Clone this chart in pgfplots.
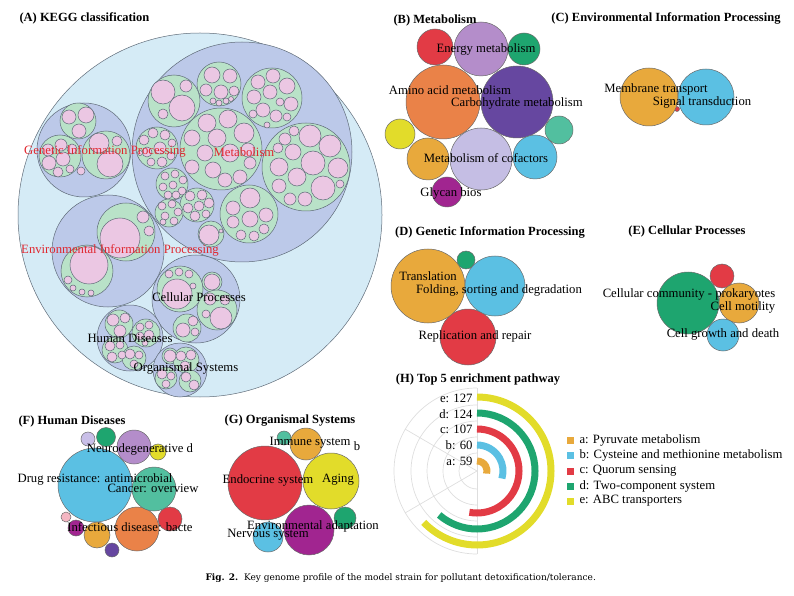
\documentclass[border=0pt]{standalone}
\usepackage{pgfplots}
\pgfplotsset{compat=1.18}
\usepackage{pgfplotstable}
\usepackage{fontspec}
\setmainfont{Liberation Serif}
\newfontfamily\capfont{DejaVu Serif}

\definecolor{cSky}{HTML}{D5EBF6}
\definecolor{cLav}{HTML}{BCC9E9}
\definecolor{cMint}{HTML}{B9E2C8}
\definecolor{cPink}{HTML}{EBC7E3}
\definecolor{edgeA}{HTML}{5F6B78}
\definecolor{edgeB}{HTML}{6A6A6A}
\definecolor{labred}{HTML}{E0262E}
% palette, indexed by the c column
\definecolor{pal0}{HTML}{E23B45}  % red
\definecolor{pal1}{HTML}{B48DCA}  % orchid
\definecolor{pal2}{HTML}{1EA56F}  % green
\definecolor{pal3}{HTML}{EA8248}  % orange
\definecolor{pal4}{HTML}{6647A0}  % indigo
\definecolor{pal5}{HTML}{E2DC2A}  % yellow
\definecolor{pal6}{HTML}{52BF9F}  % teal
\definecolor{pal7}{HTML}{E8A93C}  % gold
\definecolor{pal8}{HTML}{C5BEE4}  % lilac
\definecolor{pal9}{HTML}{5BC0E3}  % cyan
\definecolor{pal10}{HTML}{A12590} % magenta
\definecolor{pal11}{HTML}{F4B6C2} % light pink
\definecolor{pal12}{HTML}{C9BFE8} % light lavender

\newcommand\lbl{\fontsize{12.7}{14}\selectfont}
\newcommand\ttl{\fontsize{12.5}{14}\selectfont\bfseries}

% ring bar of panel H: radius \ringr, clockwise from the top to \ringend
\pgfdeclareplotmark{ringbar}{%
  \pgfpathmoveto{\pgfpoint{0pt}{\ringr pt}}%
  \pgfpatharc{90}{\ringend}{\ringr pt}%
  \pgfusepathqstroke}
\pgfdeclareplotmark{gridarc}{%
  \pgfpathmoveto{\pgfpoint{0pt}{\ringr pt}}%
  \pgfpatharc{90}{270}{\ringr pt}%
  \pgfusepathqstroke}

\pgfplotsset{
  bub/.style 2 args={scatter, only marks, mark=*, point meta=\thisrow{r},
    visualization depends on={\thisrow{r}\as\bubr},
    scatter/use mapped color={draw=#1, fill=#2, line width=0.5pt},
    scatter/@pre marker code/.append style={/tikz/mark size=\bubr}},
}

% ---------- panel A: KEGG classification ----------
\pgfplotstableread{
x y r
200 215 182
}\tabAouter
\pgfplotstableread{
x y r
242 152 110
84 150 47
108 251 56
196 299 44
130 338 33
180 370 27
}\tabAcat
\pgfplotstableread{
x y r
174 101 26
219 84 22
272 98 30
221 149 41
306 167 44
249 214 29
157 148 21
172 184 16
197 205 17
169 213 14
211 234 13
78 121 18
60 156 21
106 155 24
126 232 29
87 271 26
180 289 23
212 282 10
217 310 20
187 328 14
119 324 14
146 333 14
115 350 13
134 358 12
170 356 8
186 360 13
166 378 11
190 381 11
}\tabAgreen
\pgfplotstableread{
x y r
163 92 12
182 108 13
163 114 5
186 86 6
212 75 8
230 76 7
206 90 6
221 92 7
234 91 5
213 101 3
219 103 3
226 101 3
231 99 2.5
258 82 7
273 76 7
287 86 8
254 97 7
270 92 7
291 104 7
263 110 7
276 116 6
253 114 4
280 102 4
267 125 3
287 117 4
207 123 9
228 119 9
244 133 10
192 138 8
217 138 9
205 153 8
230 153 9
248 150 7
192 167 7
213 170 8
225 180 7
240 177 7
250 163 6
285 139 6
294 131 5
310 136 11
330 146 11
278 148 5
293 152 8
313 163 12
338 168 10
279 167 9
297 177 9
323 188 12
279 186 7
290 199 6
305 199 7
340 184 4
250 198 10
233 208 7
250 219 8
266 215 7
233 222 6
241 235 5
254 236 5
264 229 5
144 140 5
153 133 5
165 135 5
172 143 4
147 152 5
160 148 6
171 156 4
151 162 4
162 162 5
140 153 2.5
165 176 4
175 174 4
183 180 4
163 187 4
173 185 4
182 191 4
168 195 4
176 195 4
190 196 5
202 195 5
209 203 5
188 208 5
199 206 5
206 214 4
195 216 5
162 206 4
172 204 4
178 212 4
165 216 4
174 221 4
163 222 3
209 235 10
221 231 2
69 117 7
86 115 8
79 131 7
48 150 6
61 145 6
49 163 7
63 159 7
58 172 5
70 169 4
72 149 5
99 143 10
110 164 13
117 141 5
81 171 4
120 238 20
143 217 6
149 231 5
89 265 19
68 280 4
73 288 3
82 292 3
91 293 3
177 294 15
169 274 4
179 272 4
189 274 4
193 286 3
212 282 8
221 318 11
210 299 6
225 300 5
206 314 4
183 330 7
193 321 5
195 332 4
113 320 6
125 318 5
120 331 6
140 327 4
149 325 4
140 336 4
149 335 5
145 343 3
110 346 5
120 345 4
112 357 5
122 355 4
130 354 5
139 355 4
134 364 4
170 356 6
181 356 5
191 355 5
185 366 5
162 374 5
171 376 4
166 384 4
186 377 5
194 385 5
}\tabApink

% ---------- panels B to G (c = palette index) ----------
\pgfplotstableread{
x y r c
435 47 18 0
481 49 27 1
524 49 16 2
443 102 37 3
517 102 36 4
400 134 15 5
559 130 14 6
428 159 21 7
481 159 31 8
535 157 22 9
447 192 15 10
649 97 29 7
706 97 28 9
677 109 2.5 0
428 286 37 7
466 260 9 2
495 286 30 9
468 337 28 0
688 303 31 2
722 276 12 0
739 303 20 7
723 335 16 9
88 439 7 12
106 437 9.5 2
134 447 17 1
158 452 8 5
95 485 37 9
154 489 22 6
170 519 12 0
137 529 22 3
66 517 5 11
76 528 8 10
97 535 13 7
112 550 7 4
284 438 7 6
306 444 16 7
265 483 37 0
331 481 28 5
345 518 11 2
309 530 25 10
268 537 15 9
}\tabBG

% ---------- panel H: top 5 pathways ----------
\pgfplotstableread{
x y r v c
477 471 10 59 7
477 471 26 60 9
477 471 42 107 0
477 471 58 124 2
477 471 74 127 5
}\tabH
\pgfplotstableread{
x y r
477 471 18
477 471 34
477 471 50
477 471 66
477 471 83
}\tabHgrid

\begin{document}
\begin{tikzpicture}
\begin{axis}[
  name=ax, set layers,
  x=1pt, y=1pt, y dir=reverse,
  xmin=0, xmax=794, ymin=0, ymax=595,
  hide axis, clip=false,
]
% panel A
\addplot[bub={edgeA}{cSky}] table {\tabAouter};
\addplot[bub={edgeA}{cLav}] table {\tabAcat};
\addplot[bub={edgeA}{cMint}] table {\tabAgreen};
\addplot[bub={edgeA}{cPink}] table {\tabApink};

% panels B-G, one plot per colour
\pgfplotsinvokeforeach{0,...,12}{
  \addplot[bub={edgeB}{pal#1}, restrict expr to domain={\thisrow{c}}{#1:#1}] table {\tabBG};
}

% panel H grid
\addplot[scatter, only marks, mark=gridarc, point meta=\thisrow{r},
  visualization depends on={\thisrow{r}\as\ringr},
  scatter/use mapped color={draw=black!13},
  mark options={line width=0.7pt}] table {\tabHgrid};
\addplot[black!13, line width=0.7pt] coordinates {(477,471) (405,429)};
\addplot[black!13, line width=0.7pt] coordinates {(477,471) (405,513)};
\addplot[black!13, line width=0.7pt] coordinates {(477,388) (477,554)};
% panel H bars
\pgfplotsinvokeforeach{0,2,5,7,9}{
  \addplot[scatter, only marks, mark=ringbar, point meta=\thisrow{v},
    restrict expr to domain={\thisrow{c}}{#1:#1},
    visualization depends on={\thisrow{r}\as\ringr},
    visualization depends on={90-1.78*\thisrow{v}\as\ringend},
    scatter/use mapped color={draw=pal#1},
    mark options={line width=7pt}] table {\tabH};
}
% legend squares
\addplot[only marks, mark=square*, mark size=3, pal7] coordinates {(570,440)};
\addplot[only marks, mark=square*, mark size=3, pal9] coordinates {(570,455)};
\addplot[only marks, mark=square*, mark size=3, pal0] coordinates {(570,471)};
\addplot[only marks, mark=square*, mark size=3, pal2] coordinates {(570,486)};
\addplot[only marks, mark=square*, mark size=3, pal5] coordinates {(570,501)};

\begin{pgfonlayer}{axis foreground}
% titles
\node[anchor=west, font=\ttl] at (axis cs:16,18) {(A) KEGG classification};
\node[font=\ttl] at (axis cs:435,20) {(B) Metabolism};
\node[font=\ttl] at (axis cs:666,18) {(C) Environmental Information Processing};
\node[font=\ttl] at (axis cs:490,232) {(D) Genetic Information Processing};
\node[font=\ttl] at (axis cs:687,231) {(E) Cellular Processes};
\node[font=\ttl] at (axis cs:72,421) {(F) Human Diseases};
\node[font=\ttl] at (axis cs:290,421) {(G) Organismal Systems};
\node[font=\ttl] at (axis cs:478,380) {(H) Top 5 enrichment pathway};

% panel A labels
\node[font=\lbl, text=labred] at (axis cs:105,151) {Genetic Information Processing};
\node[font=\lbl, text=labred] at (axis cs:244,152) {Metabolism};
\node[font=\lbl, text=labred] at (axis cs:120,250) {Environmental Information Processing};
\node[font=\lbl] at (axis cs:199,297) {Cellular Processes};
\node[font=\lbl] at (axis cs:130,338) {Human Diseases};
\node[font=\lbl] at (axis cs:186,368) {Organismal Systems};

% panel B labels
\node[font=\lbl] at (axis cs:486,49) {Energy metabolism};
\node[font=\lbl] at (axis cs:450,90) {Amino acid metabolism};
\node[font=\lbl] at (axis cs:517,103) {Carbohydrate metabolism};
\node[font=\lbl] at (axis cs:486,158) {Metabolism of cofactors};
\node[font=\lbl] at (axis cs:451,193) {Glycan bios};
% panel C labels
\node[font=\lbl] at (axis cs:656,89) {Membrane transport};
\node[font=\lbl] at (axis cs:702,102) {Signal transduction};
% panel D labels
\node[font=\lbl] at (axis cs:428,276) {Translation};
\node[font=\lbl] at (axis cs:499,290) {Folding, sorting and degradation};
\node[font=\lbl] at (axis cs:475,336) {Replication and repair};
% panel E labels
\node[font=\lbl] at (axis cs:689,294) {Cellular community - prokaryotes};
\node[font=\lbl] at (axis cs:743,307) {Cell motility};
\node[font=\lbl] at (axis cs:723,334) {Cell growth and death};
% panel F labels
\node[font=\lbl] at (axis cs:140,449) {Neurodegenerative d};
\node[font=\lbl] at (axis cs:95,479) {Drug resistance: antimicrobial};
\node[font=\lbl] at (axis cs:153,488) {Cancer: overview};
\node[font=\lbl] at (axis cs:130,527) {Infectious disease: bacte};
% panel G labels
\node[font=\lbl] at (axis cs:310,443) {Immune system};
\node[font=\lbl] at (axis cs:357,446) {b};
\node[font=\lbl] at (axis cs:268,480) {Endocrine system};
\node[font=\lbl] at (axis cs:338,480) {Aging};
\node[font=\lbl] at (axis cs:313,526) {Environmental adaptation};
\node[font=\lbl] at (axis cs:268,535) {Nervous system};
% panel H labels
\node[font=\lbl, anchor=east] at (axis cs:476,398) {e: 127};
\node[font=\lbl, anchor=east] at (axis cs:476,414) {d: 124};
\node[font=\lbl, anchor=east] at (axis cs:476,429) {c: 107};
\node[font=\lbl, anchor=east] at (axis cs:476,445) {b: 60};
\node[font=\lbl, anchor=east] at (axis cs:476,461) {a: 59};
\node[font=\lbl, anchor=west] at (axis cs:576,440) {a: Pyruvate metabolism};
\node[font=\lbl, anchor=west] at (axis cs:576,455) {b: Cysteine and methionine metabolism};
\node[font=\lbl, anchor=west] at (axis cs:576,471) {c: Quorum sensing};
\node[font=\lbl, anchor=west] at (axis cs:576,486) {d: Two-component system};
\node[font=\lbl, anchor=west] at (axis cs:576,501) {e: ABC transporters};

% caption
\node[anchor=west, font=\capfont\fontsize{9}{11}\selectfont] at (axis cs:202,578)
  {\textbf{Fig. 2.}\ \ Key genome profile of the model strain for pollutant detoxification/tolerance.};
\end{pgfonlayer}
\end{axis}
\pgfresetboundingbox
\path (ax.south west) rectangle (ax.north east);
\end{tikzpicture}
\end{document}
